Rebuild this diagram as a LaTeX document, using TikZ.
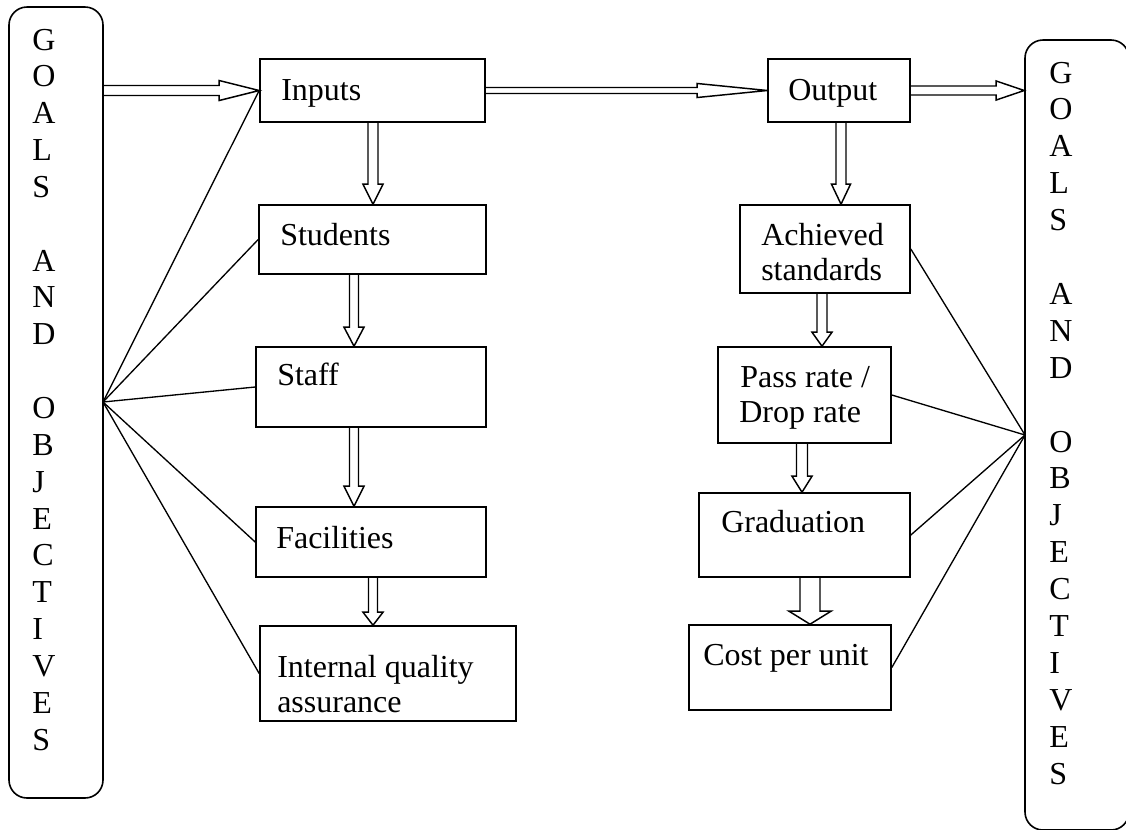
\documentclass[tikz,border=0pt]{standalone}
\usepackage{fontspec}
\setmainfont{Liberation Serif}
\usetikzlibrary{calc,fit}

% Hollow block arrow pointing right: start point, tip point, shaft half-width,
% head half-width, head length (the last three in pixel units)
\newcommand{\hollowright}[5]{%
  \draw[hollow] let \p1=(#1), \p2=(#2) in
    (\x1,\y2+#3*0.75pt) -- (\x2-#5*0.75pt,\y2+#3*0.75pt) -- (\x2-#5*0.75pt,\y2+#4*0.75pt)
    -- (\x2,\y2) -- (\x2-#5*0.75pt,\y2-#4*0.75pt) -- (\x2-#5*0.75pt,\y2-#3*0.75pt)
    -- (\x1,\y2-#3*0.75pt);}

% Hollow block arrow pointing down from one box to the next at a given x
\newcommand{\hollowdown}[6]{%
  \draw[hollow] let \p1=(#1.south), \p2=(#2.north), \p3=(#3,0) in
    (\x3-#4*0.75pt,\y1) -- (\x3-#4*0.75pt,\y2+#6*0.75pt) -- (\x3-#5*0.75pt,\y2+#6*0.75pt)
    -- (\x3,\y2) -- (\x3+#5*0.75pt,\y2+#6*0.75pt) -- (\x3+#4*0.75pt,\y2+#6*0.75pt)
    -- (\x3+#4*0.75pt,\y1);}

\begin{document}
\begin{tikzpicture}[x=0.75pt,y=-0.75pt,
  box/.style={draw, rectangle, inner sep=0pt, line width=1.2pt},
  goalbox/.style={box, rounded corners=13.5pt},
  txt/.style={inner sep=0pt, font=\fontsize{24}{27.7}\selectfont},
  hollow/.style={draw, line width=1.1pt, line join=miter},
  link/.style={draw, line width=1pt}]
\useasboundingbox (0,0) rectangle (1126,829);

% goals and objectives panels
\node[goalbox, fit={(9,7) (103,798)}] (goalsL) {};
\node[goalbox, fit={(1025,40) (1129,830)}] (goalsR) {};
\foreach \ch/\k in {G/0,O/1,A/2,L/3,S/4,A/6,N/7,D/8,O/10,B/11,J/12,E/13,C/14,T/15,I/16,V/17,E/18,S/19}{
  \node[txt, anchor=base west] (gl\k) at (32, 50+36.85*\k) {\ch};
  \node[txt, anchor=base west] (gr\k) at (1049, 83+36.9*\k) {\ch};
}

% input side
\node[box, fit={(260,59) (485,122)}] (inputs) {};
\node[box, fit={(259,205) (486,274)}] (students) {};
\node[box, fit={(256,347) (486,427)}] (staff) {};
\node[box, fit={(256,507) (486,577)}] (facilities) {};
\node[box, fit={(260,626) (516,721)}] (iqa) {};

% output side
\node[box, fit={(768,59) (910,122)}] (output) {};
\node[box, fit={(740,205) (910,293)}] (achieved) {};
\node[box, fit={(718,347) (891,443)}] (pass) {};
\node[box, fit={(699,493) (910,577)}] (grad) {};
\node[box, fit={(689,625) (891,710)}] (cost) {};

% box texts
\node[txt, anchor=base west] (tInputs) at (281,100) {Inputs};
\node[txt, anchor=base west] (tStudents) at (280,245) {Students};
\node[txt, anchor=base west] (tStaff) at (277,385) {Staff};
\node[txt, anchor=base west] (tFacilities) at (276,548) {Facilities};
\node[txt, anchor=base west] (tIqaA) at (277,677) {Internal quality};
\node[txt, anchor=base west] (tIqaB) at (277,712) {assurance};
\node[txt, anchor=base west] (tOutput) at (788,100) {Output};
\node[txt, anchor=base west] (tAchA) at (761,245) {Achieved};
\node[txt, anchor=base west] (tAchB) at (761,280) {standards};
\node[txt, anchor=base west] (tPassA) at (740,387) {Pass rate /};
\node[txt, anchor=base west] (tPassB) at (739,422) {Drop rate};
\node[txt, anchor=base west] (tGrad) at (721,532) {Graduation};
\node[txt, anchor=base west] (tCost) at (703,665) {Cost per unit};

% horizontal flow arrows
\hollowright{goalsL.east |- inputs.west}{inputs.west}{5}{10}{40}
\hollowright{inputs.east}{output.west}{3}{7}{70}
\hollowright{output.east}{goalsR.west |- output.east}{4.5}{9.5}{28}

% vertical flow arrows
\hollowdown{inputs}{students}{373}{5}{10}{20}
\hollowdown{students}{staff}{354}{4.5}{10}{19}
\hollowdown{staff}{facilities}{354}{4.5}{10}{20}
\hollowdown{facilities}{iqa}{373}{4.5}{10}{13}
\hollowdown{output}{achieved}{841}{5}{9.5}{20}
\hollowdown{achieved}{pass}{822}{5}{10}{14}
\hollowdown{pass}{grad}{802}{5.5}{10}{16}
\hollowdown{grad}{cost}{810}{10}{21}{13}

% links fanning out from the goals panels
\coordinate (hubL) at (103,402);
\coordinate (hubR) at (1025,435);
\foreach \n in {inputs,students,staff,facilities,iqa}
  \draw[link] (hubL) -- (\n.west);
\foreach \n in {achieved,pass,grad,cost}
  \draw[link] (hubR) -- (\n.east);
\end{tikzpicture}
\end{document}
